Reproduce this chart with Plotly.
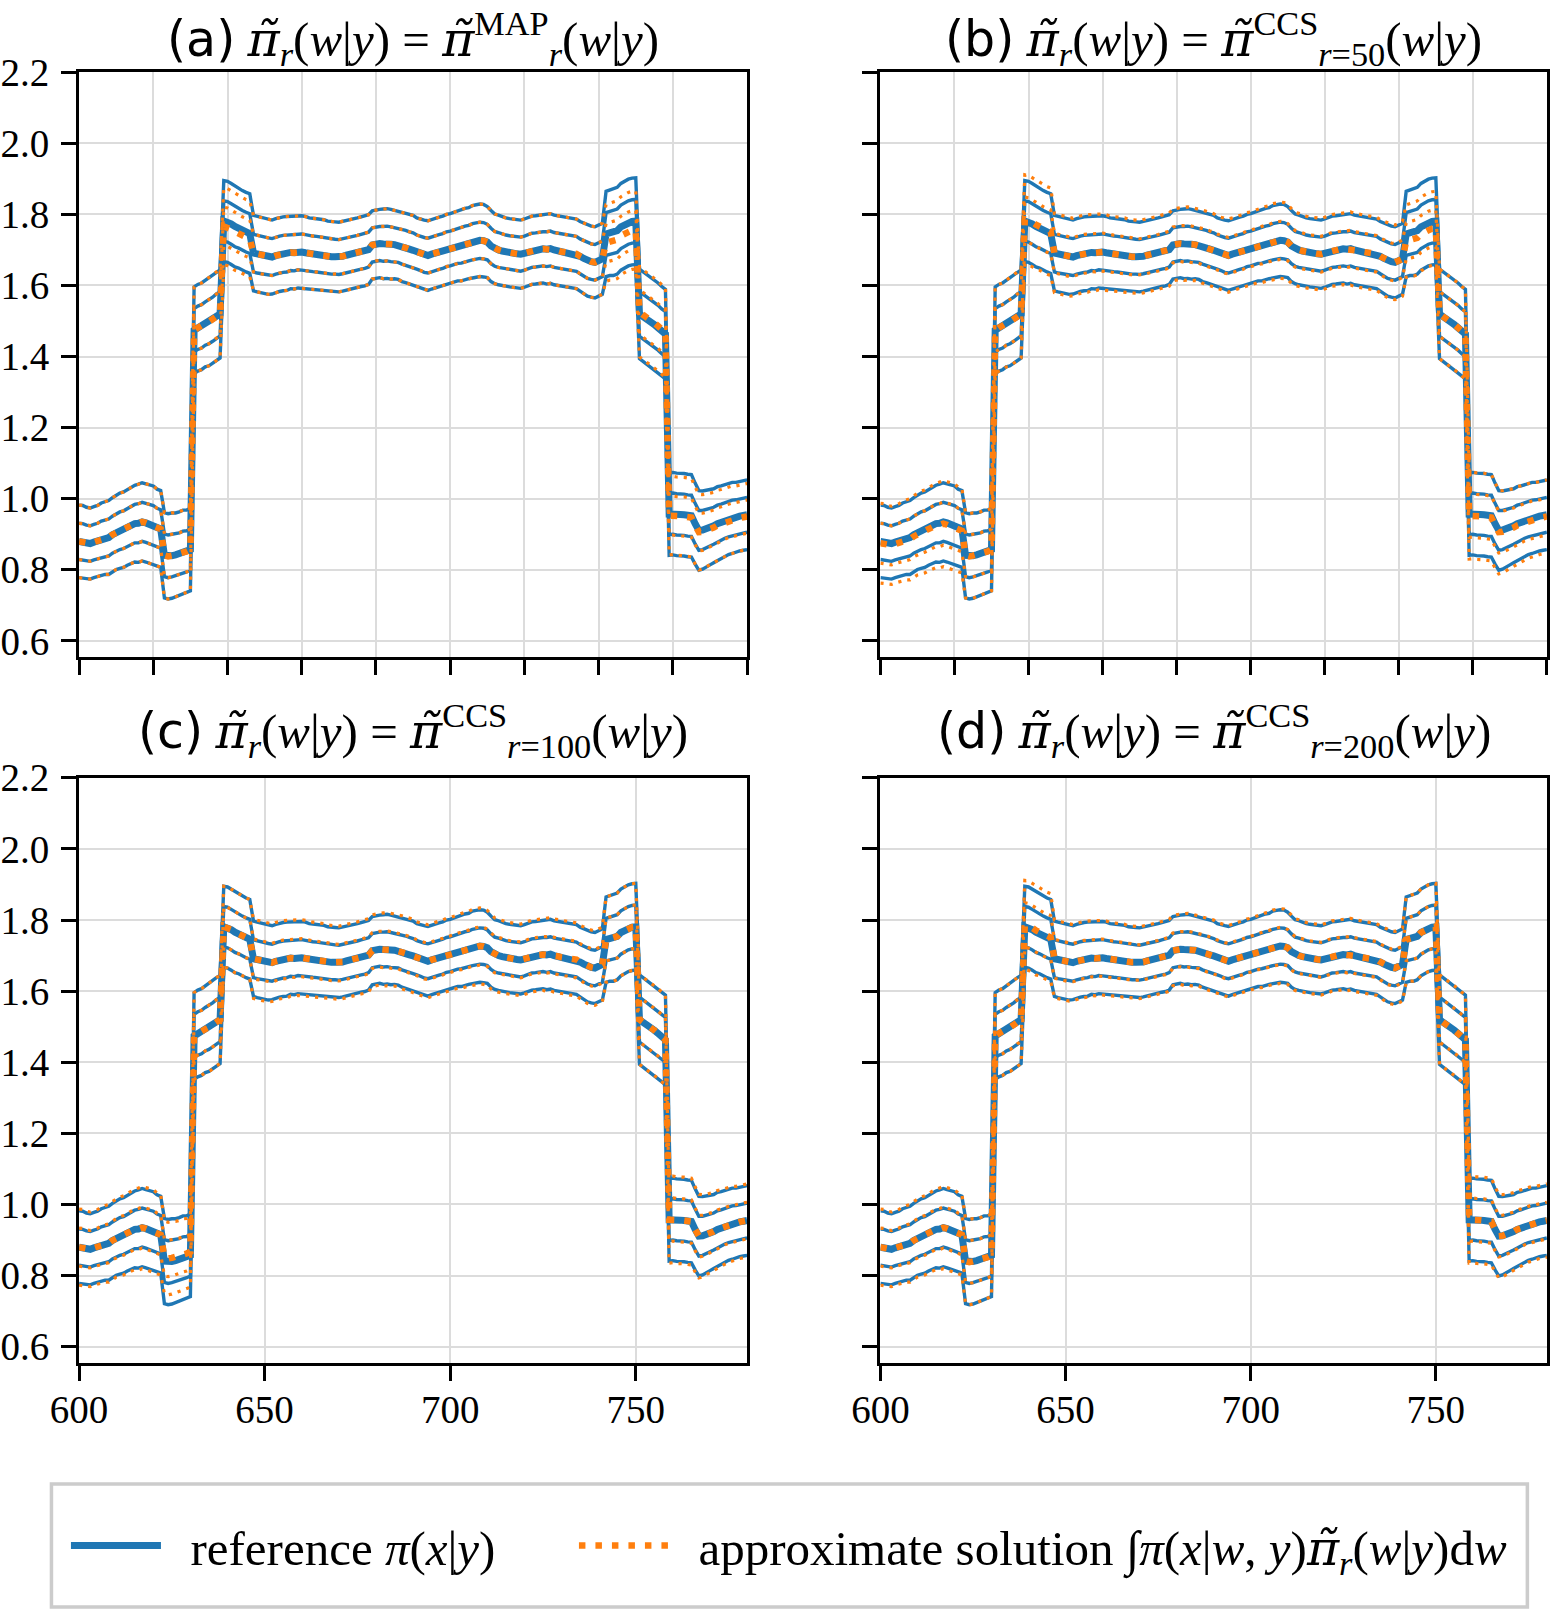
import bisect

import plotly.graph_objects as go
from plotly.subplots import make_subplots

# wavelength grid (x axis)
wavelength = list(range(600, 781))

# reference posterior mean pi(x|y), one value per wavelength
ref_mean = [
    0.880, 0.879, 0.876, 0.874, 0.878, 0.881, 0.886, 0.889, 0.891, 0.899,
    0.905, 0.910, 0.913, 0.919, 0.925, 0.930, 0.931, 0.935, 0.932, 0.928,
    0.926, 0.919, 0.915, 0.841, 0.838, 0.840, 0.842, 0.845, 0.850, 0.852,
    0.857, 1.474, 1.481, 1.485, 1.493, 1.498, 1.505, 1.514, 1.520, 1.781,
    1.779, 1.773, 1.766, 1.761, 1.755, 1.750, 1.746, 1.691, 1.688, 1.686,
    1.684, 1.681, 1.680, 1.684, 1.687, 1.689, 1.690, 1.693, 1.692, 1.695,
    1.694, 1.692, 1.690, 1.689, 1.688, 1.686, 1.685, 1.683, 1.681, 1.681,
    1.680, 1.682, 1.685, 1.687, 1.689, 1.692, 1.695, 1.697, 1.701, 1.714,
    1.717, 1.718, 1.717, 1.718, 1.716, 1.715, 1.713, 1.709, 1.706, 1.702,
    1.699, 1.694, 1.690, 1.686, 1.684, 1.688, 1.691, 1.694, 1.697, 1.702,
    1.704, 1.708, 1.711, 1.713, 1.717, 1.719, 1.723, 1.725, 1.727, 1.726,
    1.722, 1.711, 1.703, 1.700, 1.697, 1.694, 1.692, 1.690, 1.689, 1.688,
    1.691, 1.695, 1.699, 1.700, 1.702, 1.703, 1.702, 1.704, 1.700, 1.698,
    1.695, 1.694, 1.692, 1.690, 1.689, 1.682, 1.676, 1.670, 1.667, 1.665,
    1.670, 1.675, 1.745, 1.748, 1.750, 1.754, 1.765, 1.771, 1.777, 1.780,
    1.781, 1.520, 1.512, 1.506, 1.497, 1.490, 1.481, 1.471, 1.463, 0.957,
    0.958, 0.956, 0.956, 0.955, 0.953, 0.952, 0.930, 0.911, 0.912, 0.915,
    0.920, 0.924, 0.930, 0.934, 0.939, 0.943, 0.946, 0.948, 0.951, 0.953,
    0.955,
]

# reference posterior standard deviation, one value per wavelength
ref_std = [
    0.051, 0.051, 0.050, 0.050, 0.050, 0.050, 0.051, 0.051, 0.052, 0.052,
    0.052, 0.053, 0.053, 0.053, 0.054, 0.054, 0.055, 0.055, 0.055, 0.055,
    0.055, 0.054, 0.054, 0.060, 0.060, 0.060, 0.059, 0.059, 0.059, 0.058,
    0.058, 0.061, 0.061, 0.061, 0.061, 0.062, 0.062, 0.062, 0.062, 0.057,
    0.057, 0.057, 0.057, 0.056, 0.056, 0.056, 0.056, 0.053, 0.053, 0.053,
    0.053, 0.053, 0.052, 0.052, 0.052, 0.052, 0.052, 0.051, 0.051, 0.051,
    0.051, 0.051, 0.050, 0.050, 0.050, 0.050, 0.050, 0.049, 0.049, 0.049,
    0.049, 0.049, 0.049, 0.049, 0.049, 0.049, 0.049, 0.049, 0.049, 0.048,
    0.048, 0.048, 0.049, 0.049, 0.049, 0.048, 0.048, 0.049, 0.049, 0.049,
    0.049, 0.048, 0.048, 0.049, 0.049, 0.049, 0.049, 0.049, 0.049, 0.049,
    0.049, 0.049, 0.049, 0.050, 0.050, 0.050, 0.051, 0.051, 0.051, 0.051,
    0.050, 0.050, 0.049, 0.049, 0.048, 0.048, 0.048, 0.048, 0.048, 0.048,
    0.048, 0.048, 0.048, 0.048, 0.048, 0.048, 0.049, 0.049, 0.049, 0.049,
    0.049, 0.049, 0.049, 0.049, 0.049, 0.049, 0.050, 0.050, 0.050, 0.050,
    0.050, 0.050, 0.060, 0.060, 0.061, 0.061, 0.061, 0.061, 0.061, 0.061,
    0.061, 0.063, 0.063, 0.063, 0.063, 0.063, 0.063, 0.063, 0.063, 0.058,
    0.058, 0.058, 0.058, 0.058, 0.058, 0.058, 0.057, 0.056, 0.055, 0.054,
    0.053, 0.052, 0.052, 0.051, 0.050, 0.050, 0.050, 0.049, 0.049, 0.049,
    0.049,
]

# curves drawn at mean + k * std
band_levels = [-2, -1, 0, 1, 2]

# approximate solution: shift of the mean and scale of the spread, per segment
segment_starts = [600, 623, 631, 639, 647, 742, 751, 759]
approx_shift = {
    "a": [0.000, 0.000, 0.000, -0.015, 0.000, -0.025, 0.005, -0.005],
    "b": [-0.005, 0.000, 0.000, 0.005, 0.000, -0.020, 0.000, -0.005],
    "c": [0.000, 0.010, 0.000, 0.000, 0.000, 0.000, 0.000, 0.000],
    "d": [0.000, 0.000, 0.000, 0.005, 0.000, 0.000, 0.000, 0.000],
}
approx_scale = {
    "a": [1.00, 1.00, 1.00, 0.95, 1.00, 0.90, 1.00, 0.95],
    "b": [1.10, 1.00, 1.00, 1.10, 1.05, 0.85, 1.00, 1.05],
    "c": [1.05, 0.85, 1.00, 1.00, 1.05, 1.00, 1.00, 1.05],
    "d": [1.05, 1.00, 1.00, 1.10, 1.03, 1.00, 1.00, 1.05],
}

PT = "<span style='font-family:DejaVu Serif'><i>π̃\u200b</i></span>"
SANS = "<span style='font-family:DejaVu Sans'>{}</span>"
panel_titles = {
    "a": SANS.format("(a)") + " " + PT + "<sub><i>r</i></sub>(<i>w</i>|<i>y</i>) = " + PT + "<sup>MAP</sup><sub><i>r</i></sub>(<i>w</i>|<i>y</i>)",
    "b": SANS.format("(b)") + " " + PT + "<sub><i>r</i></sub>(<i>w</i>|<i>y</i>) = " + PT + "<sup>CCS</sup><sub><i>r</i>=50</sub>(<i>w</i>|<i>y</i>)",
    "c": SANS.format("(c)") + " " + PT + "<sub><i>r</i></sub>(<i>w</i>|<i>y</i>) = " + PT + "<sup>CCS</sup><sub><i>r</i>=100</sub>(<i>w</i>|<i>y</i>)",
    "d": SANS.format("(d)") + " " + PT + "<sub><i>r</i></sub>(<i>w</i>|<i>y</i>) = " + PT + "<sup>CCS</sup><sub><i>r</i>=200</sub>(<i>w</i>|<i>y</i>)",
}

legend_names = [
    "\u00a0\u00a0reference <i>π</i>(<i>x</i>|<i>y</i>)" + "\u00a0" * 6,
    "\u00a0\u00a0approximate solution ∫<i>π</i>(<i>x</i>|<i>w</i>, <i>y</i>)" + PT
    + "<sub><i>r</i></sub>(<i>w</i>|<i>y</i>)d<i>w</i>",
]

BLUE = "#1f77b4"
ORANGE = "#ff7f0e"
SERIF = "Liberation Serif"

fig = make_subplots(rows=2, cols=2)

panels = [("a", 1, 1), ("b", 1, 2), ("c", 2, 1), ("d", 2, 2)]
for key, row, col in panels:
    first = key == "a"
    for k in band_levels:
        y = [m + k * s for m, s in zip(ref_mean, ref_std)]
        fig.add_trace(go.Scatter(
            x=wavelength, y=y, mode="lines",
            line=dict(color=BLUE, width=7 if k == 0 else 3.4),
            name=legend_names[0], legendgroup="ref",
            showlegend=first and k == 0,
        ), row=row, col=col)
    for k in band_levels:
        y = []
        for xv, m, s in zip(wavelength, ref_mean, ref_std):
            seg = bisect.bisect_right(segment_starts, xv) - 1
            y.append(m + approx_shift[key][seg] + k * s * approx_scale[key][seg])
        fig.add_trace(go.Scatter(
            x=wavelength, y=y, mode="lines",
            line=dict(color=ORANGE, width=6.5 if k == 0 else 3.2,
                      dash="6.5px,10px" if k == 0 else "3.2px,6px"),
            name=legend_names[1], legendgroup="approx",
            showlegend=first and k == 0,
        ), row=row, col=col)

axis_font = dict(family=SERIF, size=39, color="black")
common_x = dict(range=[600, 780], showline=True, linecolor="black", linewidth=3,
                mirror=True, ticks="outside", ticklen=15, tickwidth=3,
                tickcolor="black", showgrid=True, gridcolor="#dcdcdc",
                gridwidth=1.5, zeroline=False, tickfont=axis_font,
                automargin=False, ticklabelstandoff=-5)
common_y = dict(range=[0.554, 2.2005], tick0=0.6, dtick=0.2, tickformat=".1f",
                showline=True, linecolor="black", linewidth=3, mirror=True,
                ticks="outside", ticklen=15, tickwidth=3, tickcolor="black",
                showgrid=True, gridcolor="#dcdcdc", gridwidth=1.5,
                zeroline=False, tickfont=axis_font, automargin=False,
                ticklabelstandoff=4)

left_dom = [0.051, 0.482]
right_dom = [0.568, 0.998]
top_dom = [0.592, 0.9553]
bottom_dom = [0.1539, 0.5173]

fig.update_layout(
    xaxis=dict(common_x, domain=left_dom, tick0=600, dtick=20, showticklabels=False),
    xaxis2=dict(common_x, domain=right_dom, tick0=600, dtick=20, showticklabels=False),
    xaxis3=dict(common_x, domain=left_dom, tick0=600, dtick=50),
    xaxis4=dict(common_x, domain=right_dom, tick0=600, dtick=50),
    yaxis=dict(common_y, domain=top_dom),
    yaxis2=dict(common_y, domain=top_dom, showticklabels=False),
    yaxis3=dict(common_y, domain=bottom_dom),
    yaxis4=dict(common_y, domain=bottom_dom, showticklabels=False),
)

title_pos = {"a": (left_dom, 0.9990), "b": (right_dom, 0.9990),
             "c": (left_dom, 0.5690), "d": (right_dom, 0.5690)}
for key, (dom, ty) in title_pos.items():
    fig.add_annotation(text=panel_titles[key], x=(dom[0] + dom[1]) / 2, y=ty,
                       xref="paper", yref="paper", xanchor="center",
                       yanchor="top", showarrow=False,
                       font=dict(family=SERIF, size=49, color="black"))

# frame around the legend
fig.add_shape(type="rect", xref="paper", yref="paper",
              x0=0.0332, x1=0.9854, y0=0.0025, y1=0.0788,
              line=dict(color="#cccccc", width=3.5), fillcolor="rgba(0,0,0,0)")

fig.update_layout(
    width=1550, height=1611,
    margin=dict(l=0, r=0, t=0, b=0),
    paper_bgcolor="white", plot_bgcolor="white",
    legend=dict(orientation="h", x=0.509, xanchor="center", y=0.0405,
                yanchor="middle", borderwidth=0, bgcolor="rgba(0,0,0,0)",
                font=dict(family=SERIF, size=49, color="black"),
                itemwidth=90),
)

fig.write_html("out.html", config={"displayModeBar": False},
               post_script="document.body.style.margin='0';"
                           "document.body.style.overflow='hidden';")
